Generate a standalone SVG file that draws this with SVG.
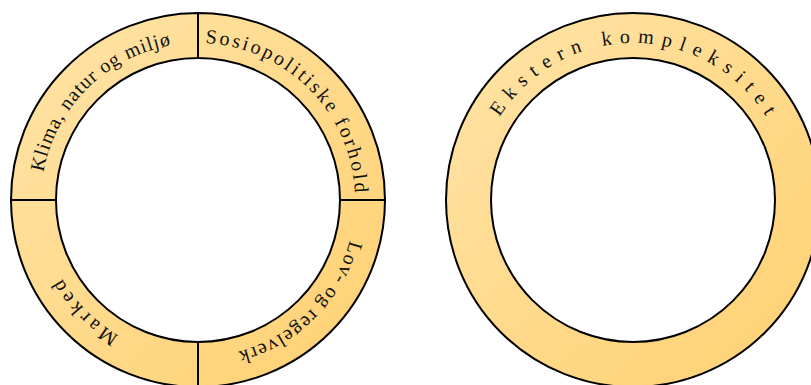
<svg xmlns="http://www.w3.org/2000/svg" xmlns:xlink="http://www.w3.org/1999/xlink" width="811" height="385" viewBox="0 0 811 385">
  <style>
    .seg { stroke: #000; stroke-width: 2; }
    .lbl { font-family: "Liberation Serif", "Times New Roman", serif; font-size: 20px; fill: #111; }
  </style>
  <defs>
    <linearGradient id="gL" gradientUnits="userSpaceOnUse" x1="11" y1="13" x2="385" y2="387">
      <stop offset="0" stop-color="#FFE4A8"/>
      <stop offset="1" stop-color="#FFD070"/>
    </linearGradient>
    <linearGradient id="gR" gradientUnits="userSpaceOnUse" x1="446" y1="13" x2="820" y2="387">
      <stop offset="0" stop-color="#FFE4A8"/>
      <stop offset="1" stop-color="#FFD070"/>
    </linearGradient>
    <path id="pL" d="M 41 200 A 157 157 0 1 1 355 200 A 157 157 0 1 1 41 200"/>
    <path id="pR" d="M 476 200 A 157 157 0 1 1 790 200 A 157 157 0 1 1 476 200"/>
  </defs>

  <g id="klima">
    <path class="seg" fill="url(#gL)" d="M 11 200 A 187 187 0 0 1 198 13 L 198 58 A 142 142 0 0 0 56 200 Z"/>
    <text class="lbl" letter-spacing="0.9" text-anchor="middle"><textPath xlink:href="#pL" href="#pL" startOffset="124">Klima, natur og miljø</textPath></text>
  </g>

  <g id="sosiopolitiske">
    <path class="seg" fill="url(#gL)" d="M 198 13 A 187 187 0 0 1 385 200 L 340 200 A 142 142 0 0 0 198 58 Z"/>
    <text class="lbl" letter-spacing="2.6" text-anchor="middle"><textPath xlink:href="#pL" href="#pL" startOffset="371">Sosiopolitiske forhold</textPath></text>
  </g>

  <g id="lov">
    <path class="seg" fill="url(#gL)" d="M 385 200 A 187 187 0 0 1 198 387 L 198 342 A 142 142 0 0 0 340 200 Z"/>
    <text class="lbl" letter-spacing="1.3" text-anchor="middle"><textPath xlink:href="#pL" href="#pL" startOffset="617">Lov- og regelverk</textPath></text>
  </g>

  <g id="marked">
    <path class="seg" fill="url(#gL)" d="M 198 387 A 187 187 0 0 1 11 200 L 56 200 A 142 142 0 0 0 198 342 Z"/>
    <text class="lbl" letter-spacing="3.8" text-anchor="middle"><textPath xlink:href="#pL" href="#pL" startOffset="865">Marked</textPath></text>
  </g>

  <g id="ekstern">
    <path class="seg" fill="url(#gR)" fill-rule="evenodd" d="M 446 200 A 187 187 0 1 1 820 200 A 187 187 0 1 1 446 200 Z M 491 200 A 142 142 0 1 0 775 200 A 142 142 0 1 0 491 200 Z"/>
    <text class="lbl" letter-spacing="7.8" text-anchor="middle"><textPath xlink:href="#pR" href="#pR" startOffset="250">Ekstern kompleksitet</textPath></text>
  </g>

  <g id="connectors"/>
</svg>
